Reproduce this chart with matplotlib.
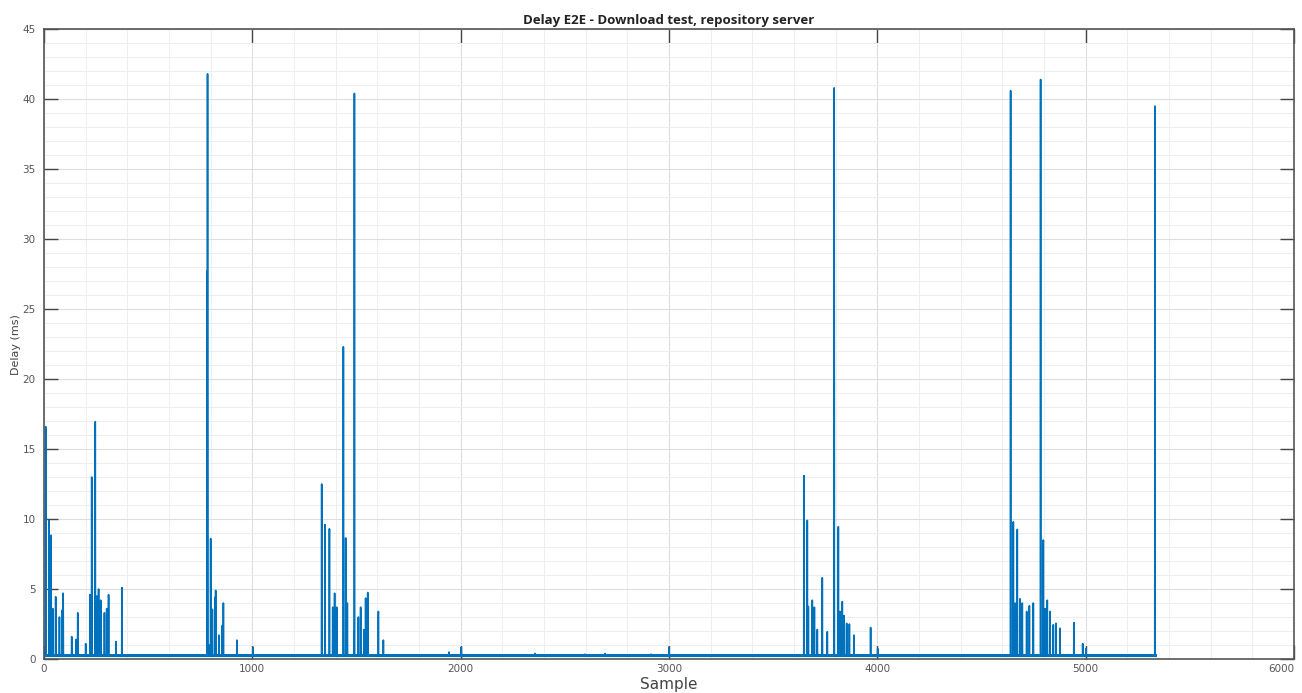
import numpy as np
import matplotlib
matplotlib.use('Agg')
import matplotlib.pyplot as plt
from matplotlib.ticker import MultipleLocator

# data: spike sample index and delay (ms)
n_samples = 5336
baseline = 0.25

spike_idx = [8, 24, 34, 42, 56, 74, 88, 92, 133, 154, 162, 200, 221, 229, 246, 254,
             262, 272, 290, 301, 310, 346, 374,
             783, 785, 792, 800, 808, 820, 824, 840, 856, 861, 926, 1003,
             1333, 1349, 1370, 1386, 1395, 1405, 1437, 1448, 1456, 1488, 1490, 1509,
             1520, 1536, 1544, 1554, 1605, 1629,
             1944, 2003, 2357, 2597, 2693, 2914, 3000,
             3648, 3664, 3669, 3688, 3698, 3712, 3736, 3760, 3793, 3813, 3821, 3832,
             3841, 3853, 3866, 3888, 3968, 4002,
             4640, 4653, 4661, 4672, 4685, 4696, 4717, 4730, 4749, 4784, 4797, 4805,
             4816, 4829, 4845, 4858, 4877, 4944, 4986, 5002,
             5333]
spike_val = [16.6, 9.9, 8.85, 3.6, 4.45, 3.0, 3.5, 4.7, 1.6, 1.4, 3.3, 1.1, 4.6, 13.0, 16.95, 4.5,
             5.0, 4.2, 3.3, 3.6, 4.6, 1.25, 5.1,
             27.7, 41.8, 1.0, 8.6, 3.55, 4.4, 4.9, 1.7, 2.4, 4.0, 1.35, 0.85,
             12.5, 9.6, 9.3, 3.7, 4.7, 3.7, 22.3, 8.65, 4.0, 2.0, 40.4, 3.0,
             3.7, 2.1, 4.35, 4.75, 3.4, 1.35,
             0.5, 0.85, 0.4, 0.35, 0.4, 0.35, 0.85,
             13.1, 9.9, 3.75, 4.2, 3.7, 2.1, 5.8, 1.95, 40.8, 9.45, 3.4, 4.1,
             3.1, 2.55, 2.5, 1.7, 2.25, 0.75,
             40.6, 9.8, 4.0, 9.25, 4.3, 4.0, 3.4, 3.8, 4.0, 41.4, 8.5, 3.6,
             4.2, 3.4, 2.45, 2.55, 2.2, 2.6, 1.1, 0.75,
             39.5]

x_ticks = [0, 1000, 2000, 3000, 4000, 5000, 6000]

delay = np.full(n_samples, baseline)
delay[spike_idx] = spike_val
sample = np.arange(n_samples)

fig = plt.figure(figsize=(13.02, 6.93), dpi=100)
ax = fig.add_axes([0.0338, 0.049, 0.96, 0.909])

ax.plot(sample, delay, color='#0072BD', linewidth=1.2)
# the noisy floor looks like a thick band in the reference
ax.plot(sample, np.minimum(delay, baseline), color='#0072BD', linewidth=2.2)

ax.set_xlim(0, 6000)
ax.set_ylim(0, 45)
ax.set_xticks(x_ticks, [str(t) for t in x_ticks])
ax.get_xticklabels()[-1].set_horizontalalignment('right')
ax.xaxis.set_minor_locator(MultipleLocator(200))
ax.yaxis.set_major_locator(MultipleLocator(5))
ax.yaxis.set_minor_locator(MultipleLocator(1))

ax.grid(which='major', color='#dedede', linewidth=0.8)
ax.grid(which='minor', color='#eeeeee', linewidth=0.7)
ax.set_axisbelow(True)

ax.tick_params(which='both', direction='in', top=True, right=True,
               labelsize=7.5, labelcolor='#555555', color='#444444')
ax.tick_params(which='major', length=10, width=1.0)
ax.tick_params(which='minor', length=0)
ax.tick_params(axis='y', pad=6)
for s in ax.spines.values():
    s.set_color('#555555')
    s.set_linewidth(1.2)

ax.set_title('Delay E2E - Download test, repository server', fontsize=9.5,
             fontweight='bold', color='#222222', pad=4, family='Open Sans')
ax.set_xlabel('Sample', fontsize=11, color='#444444', labelpad=2)
ax.set_ylabel('Delay (ms)', fontsize=8, color='#444444', labelpad=1)

fig.savefig('out.png', dpi=100)
